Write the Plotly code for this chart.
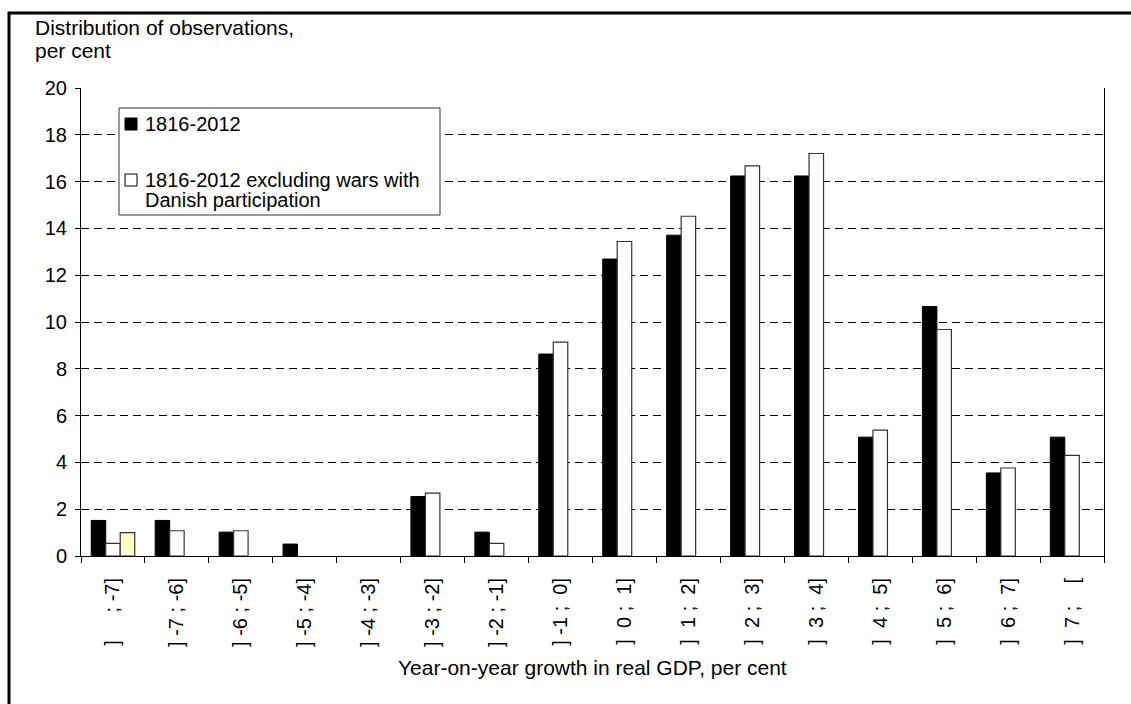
import plotly.graph_objects as go

# Growth bins (year-on-year real GDP growth, per cent)
bins = ["]     ; -7]", "] -7 ; -6]", "] -6 ; -5]", "] -5 ; -4]", "] -4 ; -3]",
        "] -3 ; -2]", "] -2 ; -1]", "] -1 ;  0]", "]  0 ;  1]", "]  1 ;  2]",
        "]  2 ;  3]", "]  3 ;  4]", "]  4 ;  5]", "]  5 ;  6]", "]  6 ;  7]",
        "]  7 ;    ["]

# Share of observations in each bin, per cent
share_all = [1.52, 1.52, 1.02, 0.51, 0.0, 2.54, 1.02, 8.63, 12.69, 13.71,
             16.24, 16.24, 5.08, 10.66, 3.55, 5.08]
share_excl_wars = [0.54, 1.08, 1.08, 0.0, 0.0, 2.69, 0.54, 9.14, 13.44, 14.52,
                   16.67, 17.20, 5.38, 9.68, 3.76, 4.30]
share_extra = [1.0, None, None, None, None, None, None, None, None, None,
               None, None, None, None, None, None]

y_ticks = [0, 2, 4, 6, 8, 10, 12, 14, 16, 18, 20]

name_all = "1816-2012"
name_excl = ["1816-2012 excluding wars with", "Danish participation"]
y_title = ["Distribution of observations,", "per cent"]
x_title = "Year-on-year growth in real GDP, per cent"

FONT = "Arial, 'Liberation Sans', sans-serif"
cats = [b.replace(" ", "\u00a0") for b in bins]


def outline(values, width):
    # no outline on empty bins so nothing is drawn there
    return [0 if (v is None or v == 0) else width for v in values]


fig = go.Figure()
fig.add_trace(go.Bar(x=cats, y=share_all, name=name_all,
                     marker=dict(color="#000000",
                                 line=dict(color="#000000", width=outline(share_all, 1)))))
fig.add_trace(go.Bar(x=cats, y=share_excl_wars, name=" ".join(name_excl),
                     marker=dict(color="#ffffff",
                                 line=dict(color="#333333", width=outline(share_excl_wars, 1.2)))))
fig.add_trace(go.Bar(x=cats, y=share_extra, name="",
                     marker=dict(color="#ffffcc",
                                 line=dict(color="#333333", width=1.2))))

L, R, T, B = 81, 27, 88, 148
W, H = 1131, 704
pw, ph = W - L - R, H - T - B


def px_x(x):
    return (x - L) / pw


def px_y(y):
    return (H - B - y) / ph


fig.update_layout(
    width=W, height=H, autosize=False,
    margin=dict(l=L, r=R, t=T, b=B),
    paper_bgcolor="white", plot_bgcolor="white",
    font=dict(family=FONT, size=20, color="#000000"),
    barmode="group", bargap=0.32, bargroupgap=0.0,
    showlegend=False,
    xaxis=dict(
        type="category", tickangle=-90, tickson="boundaries",
        ticks="outside", ticklen=6, tickcolor="#000000", tickwidth=1,
        showline=True, linecolor="#000000", linewidth=1,
        showgrid=False, ticklabelstandoff=13,
        tickfont=dict(family=FONT, size=20, color="#000000"),
    ),
    yaxis=dict(
        range=[0, 20], tickvals=y_ticks, ticks="outside", ticklen=5,
        tickcolor="#000000", showline=True, linecolor="#000000", linewidth=1,
        mirror=True, showgrid=True, gridcolor="#000000", gridwidth=1,
        griddash="8px,5px", zeroline=False, ticklabelstandoff=4,
        tickfont=dict(family=FONT, size=20, color="#000000"),
    ),
)

# Axis titles
for i, line in enumerate(y_title):
    fig.add_annotation(xref="paper", yref="paper", x=px_x(33), y=px_y(27 + 23 * i),
                       xanchor="left", yanchor="middle", showarrow=False,
                       text=line, font=dict(family=FONT, size=21, color="#000000"))
fig.add_annotation(xref="paper", yref="paper", x=0.5, y=px_y(667),
                   xanchor="center", yanchor="middle", showarrow=False,
                   text=x_title, font=dict(family=FONT, size=21, color="#000000"))

# Legend box
fig.add_shape(type="rect", xref="paper", yref="paper",
              x0=px_x(119), x1=px_x(440), y0=px_y(215), y1=px_y(108),
              line=dict(color="#333333", width=1), fillcolor="#ffffff", layer="above")
legend_items = [
    ("#000000", "#000000", [name_all], 124),
    ("#ffffff", "#000000", name_excl, 180),
]
for fill, edge, lines, cy in legend_items:
    fig.add_shape(type="rect", xref="paper", yref="paper",
                  x0=px_x(125), x1=px_x(137), y0=px_y(cy + 6), y1=px_y(cy - 6),
                  line=dict(color=edge, width=1), fillcolor=fill, layer="above")
    for j, line in enumerate(lines):
        fig.add_annotation(xref="paper", yref="paper", x=px_x(143), y=px_y(cy + 20 * j),
                           xanchor="left", yanchor="middle", showarrow=False,
                           text=line, font=dict(family=FONT, size=20, color="#000000"))

# Outer frame around the whole figure
fig.add_shape(type="rect", xref="paper", yref="paper",
              x0=px_x(9), x1=px_x(1140), y0=px_y(713), y1=px_y(13),
              line=dict(color="#000000", width=3), fillcolor="rgba(0,0,0,0)",
              layer="above")

fig.write_html("out.html")
